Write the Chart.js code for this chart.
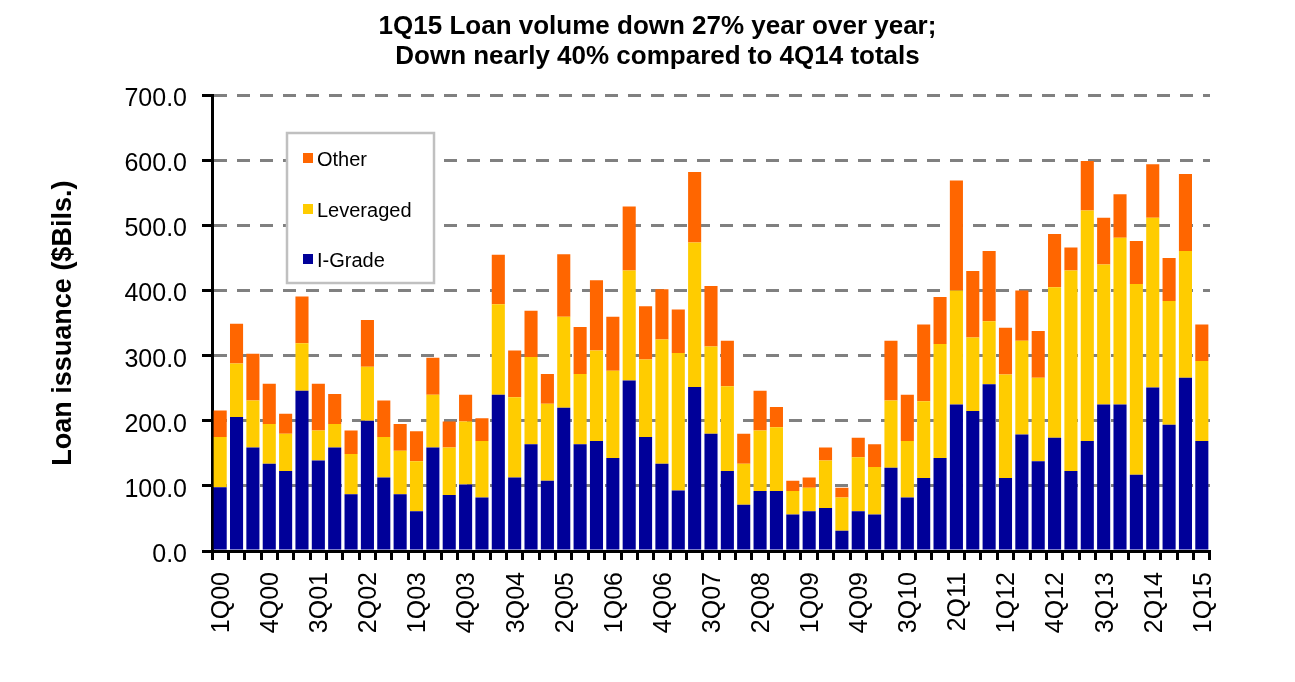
<!DOCTYPE html>
<html>
<head>
<meta charset="utf-8">
<script src="https://cdn.jsdelivr.net/npm/chart.js@4"></script>
<style>
  html, body { margin: 0; padding: 0; background: #fff; }
  #wrap { width: 1295px; height: 682px; position: relative; }
</style>
</head>
<body>
<div id="wrap"><canvas id="c" width="1295" height="682"></canvas></div>
<script>
const quarters = [
  '1Q00','2Q00','3Q00','4Q00','1Q01','2Q01','3Q01','4Q01','1Q02','2Q02','3Q02','4Q02',
  '1Q03','2Q03','3Q03','4Q03','1Q04','2Q04','3Q04','4Q04','1Q05','2Q05','3Q05','4Q05',
  '1Q06','2Q06','3Q06','4Q06','1Q07','2Q07','3Q07','4Q07','1Q08','2Q08','3Q08','4Q08',
  '1Q09','2Q09','3Q09','4Q09','1Q10','2Q10','3Q10','4Q10','1Q11','2Q11','3Q11','4Q11',
  '1Q12','2Q12','3Q12','4Q12','1Q13','2Q13','3Q13','4Q13','1Q14','2Q14','3Q14','4Q14',
  '1Q15'
];
const iGrade = [98,206,159,134,123,246,139,159,87,200,113,87,61,159,86,102,82,240,113,164,
  108,220,164,169,143,262,175,134,93,252,180,123,71,92,92,56,61,66,31,61,
  56,128,82,112,143,225,215,256,112,179,138,174,123,169,225,225,117,251,194,266,169];
const leveraged = [77,82,72,61,57,73,46,36,62,83,62,67,77,81,73,97,87,139,123,134,
  118,140,108,139,134,169,119,191,211,222,134,130,63,93,98,36,36,73,51,83,
  73,103,87,118,175,175,113,97,159,144,128,231,308,354,215,256,293,261,190,195,123];
const other = [41,61,72,62,31,72,72,46,36,72,56,41,46,57,40,41,35,76,72,71,
  46,96,72,108,83,98,82,77,67,108,93,70,46,61,31,16,16,20,15,30,
  35,92,71,118,72,169,102,108,72,77,72,82,35,76,72,67,66,82,66,118,56];
const yTicks = [0,100,200,300,400,500,600,700];
const titleLines = ['1Q15 Loan volume down 27% year over year;', 'Down nearly 40% compared to 4Q14 totals'];

const FONT = "'Liberation Sans', Arial, Helvetica, sans-serif";

const legendBox = {
  id: 'legendBox',
  afterDraw(chart) {
    const ctx = chart.ctx;
    const x = 287, y = 133, w = 147, h = 150;
    ctx.save();
    ctx.fillStyle = '#ffffff';
    ctx.fillRect(x, y, w, h);
    ctx.strokeStyle = '#c0c0c0';
    ctx.lineWidth = 2.5;
    ctx.strokeRect(x, y, w, h);
    const ds = chart.data.datasets.slice().reverse();
    const rows = [158, 209, 259];
    ctx.font = '20px ' + FONT;
    ctx.textBaseline = 'middle';
    ctx.textAlign = 'left';
    ds.forEach((d, i) => {
      ctx.fillStyle = d.backgroundColor;
      ctx.fillRect(303, rows[i] - 5, 10, 10);
      ctx.fillStyle = '#000';
      ctx.fillText(d.label, 317, rows[i] + 2);
    });
    ctx.restore();
  }
};

new Chart(document.getElementById('c'), {
  type: 'bar',
  data: {
    labels: quarters,
    datasets: [
      { label: 'I-Grade', data: iGrade, backgroundColor: '#000099' },
      { label: 'Leveraged', data: leveraged, backgroundColor: '#FFCC00' },
      { label: 'Other', data: other, backgroundColor: '#FF6600' }
    ]
  },
  options: {
    responsive: false,
    animation: false,
    devicePixelRatio: 1,
    layout: { padding: { left: 20, right: 0, top: 12, bottom: 0 } },
    datasets: { bar: { categoryPercentage: 1.0, barPercentage: 0.8 } },
    plugins: {
      legend: { display: false },
      tooltip: { enabled: false },
      title: {
        display: true,
        text: titleLines,
        color: '#000',
        font: { family: FONT, size: 26, weight: 'bold', lineHeight: 1.14 },
        padding: { top: 0, bottom: 24 }
      }
    },
    scales: {
      x: {
        stacked: true,
        grid: {
          display: true, drawOnChartArea: false, drawTicks: true,
          tickLength: 9, tickColor: '#000', tickWidth: 3, offset: true
        },
        border: { display: true, color: '#000', width: 3 },
        ticks: {
          autoSkip: false, minRotation: 90, maxRotation: 90, padding: 12, labelOffset: 2,
          color: '#000', font: { family: FONT, size: 25 },
          callback: function(v, i) { return i % 3 === 0 ? quarters[i] : ''; }
        },
        afterFit(s) { s.height = 131; }
      },
      y: {
        stacked: true,
        min: 0, max: 700,
        afterBuildTicks(s) { s.ticks = yTicks.map(v => ({ value: v })); },
        grid: {
          color: '#808080', lineWidth: 3, tickLength: 10,
          tickColor: '#000', tickWidth: 3
        },
        border: { display: true, color: '#000', width: 3, dash: [13, 10] },
        ticks: {
          padding: 15, labelOffset: 4, color: '#000', font: { family: FONT, size: 25 },
          callback: v => Number(v).toFixed(1)
        },
        title: {
          display: true, text: 'Loan issuance ($Bils.)', color: '#000',
          font: { family: FONT, size: 27, weight: 'bold', lineHeight: 1.2 },
          padding: { top: 27, bottom: 0 }
        },
        afterFit(s) { s.width = 192; }
      },
      yPad: {
        position: 'right', display: true,
        grid: { display: false, drawOnChartArea: false },
        border: { display: false },
        ticks: { display: false },
        afterFit(s) { s.width = 85; }
      }
    }
  },
  plugins: [legendBox]
});
</script>
</body>
</html>
